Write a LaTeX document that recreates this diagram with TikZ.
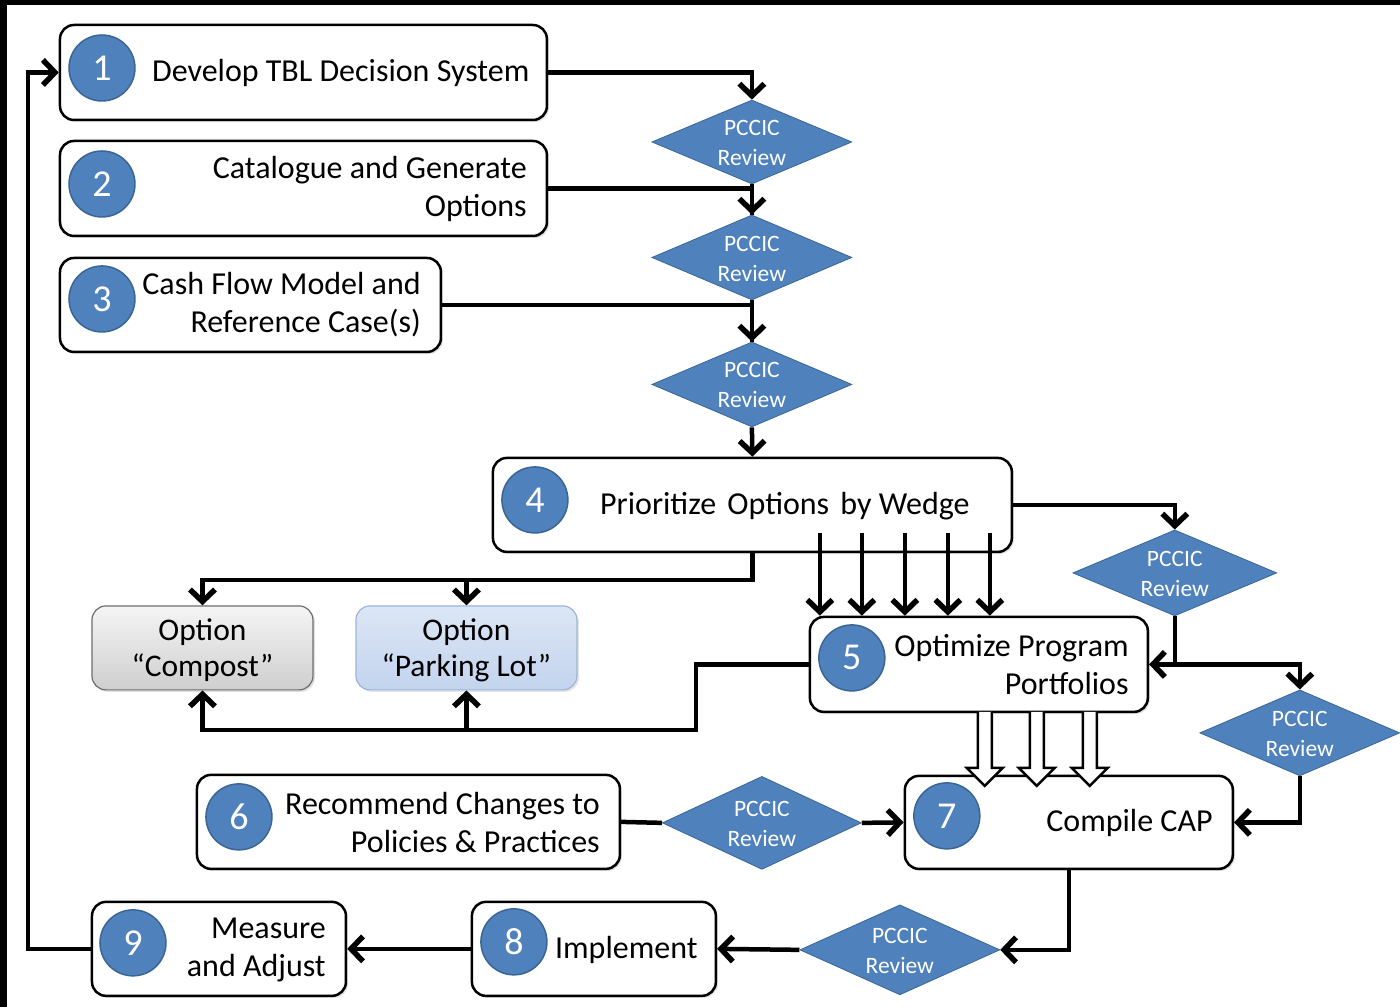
\documentclass[tikz,border=0pt]{standalone}
\usepackage{fontspec}
\setmainfont{Carlito}
\usetikzlibrary{arrows.meta,shapes.geometric,shadows,calc}
\definecolor{cblue}{HTML}{4F81BD}
\definecolor{cbluedark}{HTML}{3A6696}
\definecolor{pkfill}{HTML}{DCE6F5}
\definecolor{pkfill2}{HTML}{C3D4EE}
\definecolor{pkdraw}{HTML}{9DB5DB}
\definecolor{cpdraw}{HTML}{6E6E6E}
\begin{document}
\begin{tikzpicture}[x=1pt,y=-1pt,
  box/.style={draw=black, line width=2.5pt, fill=white, rounded corners=14pt, inner sep=0pt,
    drop shadow={shadow xshift=2pt, shadow yshift=-2pt, opacity=0.25}},
  num/.style={circle, fill=cblue, draw=cbluedark, line width=1.5pt, minimum size=66pt, inner sep=0pt,
    text=white, font=\fontsize{38}{40}\selectfont},
  txt/.style={inner sep=0pt, font=\fontsize{32}{38}\selectfont},
  rev/.style={diamond, fill=cblue, draw=cbluedark, line width=0.8pt, inner sep=0pt},
  revtxt/.style={inner sep=0pt, text=white, align=center, font=\fontsize{23.5}{30}\selectfont},
  line/.style={line width=4.5pt},
  conn/.style={line width=4.5pt, -{Straight Barb[length=12pt,width=25pt,line width=5.5pt]}},
  hollow/.style={line width=2.5pt, fill=white, line join=miter}
]
% frame
\fill[black] (0,0) rectangle (1400,1007);
\fill[white] (7,5) rectangle (1400,1007);

% boxes
\node[box, minimum width=487pt, minimum height=95pt] (b1) at (303.5,72.5) {};
\node[box, minimum width=487pt, minimum height=95pt] (b2) at (303.5,188.5) {};
\node[box, minimum width=381pt, minimum height=94pt] (b3) at (250.5,305) {};
\node[box, minimum width=519pt, minimum height=94pt] (b4) at (752.5,505) {};
\node[box, minimum width=338pt, minimum height=95pt] (b5) at (979,664.5) {};
\node[box, minimum width=423pt, minimum height=94pt] (b6) at (408.5,822) {};
\node[box, minimum width=328pt, minimum height=93pt] (b7) at (1069,822.5) {};
\node[box, minimum width=244pt, minimum height=94pt] (b8) at (594,949) {};
\node[box, minimum width=254pt, minimum height=94pt] (b9) at (219,949) {};

\node[draw=cpdraw, line width=1.2pt, rounded corners=14pt, top color=gray!8, bottom color=gray!38,
  minimum width=221pt, minimum height=84pt, inner sep=0pt,
  drop shadow={shadow xshift=2pt, shadow yshift=-2pt, opacity=0.25}] (comp) at (202.5,648) {};
\node[draw=pkdraw, line width=1.2pt, rounded corners=14pt, top color=pkfill, bottom color=pkfill2,
  minimum width=221pt, minimum height=84pt, inner sep=0pt,
  drop shadow={shadow xshift=2pt, shadow yshift=-2pt, opacity=0.2}] (park) at (466.5,648) {};

% number circles
\node[num] (n1) at (102,68) {1};
\node[num] (n2) at (102,184) {2};
\node[num] (n3) at (102,299) {3};
\node[num] (n4) at (535,500) {4};
\node[num] (n5) at (852,658) {5};
\node[num] (n6) at (239,817) {6};
\node[num] (n7) at (947,816) {7};
\node[num] (n8) at (514,942) {8};
\node[num] (n9) at (133,943) {9};

% texts
\node[txt, anchor=west] (t1) at (152,73) {Develop TBL Decision System};
\node[txt, anchor=east, align=right] (t2) at (527,189) {Catalogue and Generate\\Options};
\node[txt, anchor=east, align=right] (t3) at (421,305) {Cash Flow Model and\\Reference Case(s)};
\node[txt, anchor=west] (t4) at (600,506) {Prioritize\hspace{4pt} Options\hspace{4pt} by Wedge};
\node[txt, anchor=east, align=right] (t5) at (1129,665) {Optimize Program\\Portfolios};
\node[txt, anchor=east, align=right] (t6) at (600,823) {Recommend Changes to\\Policies \& Practices};
\node[txt, anchor=east] (t7) at (1213,823) {Compile CAP};
\node[txt, anchor=west] (t8) at (555,950) {Implement};
\node[txt, anchor=east, align=right] (t9) at (326,950) {Measure\\and Adjust};
\node[txt, align=center, font=\fontsize{31.5}{36}\selectfont] (tc) at (202.5,650) {Option\\“Compost”};
\node[txt, align=center, font=\fontsize{31.5}{36}\selectfont] (tp) at (466.5,650) {Option\\“Parking Lot”};

% review diamonds
\node[rev, minimum width=200pt, minimum height=84pt] (d1) at (752,142) {};
\node[rev, minimum width=200pt, minimum height=85pt] (d2) at (752,257.5) {};
\node[rev, minimum width=200pt, minimum height=85pt] (d3) at (752,384.5) {};
\node[rev, minimum width=204pt, minimum height=86pt] (d4) at (1175,573) {};
\node[rev, minimum width=200pt, minimum height=86pt] (d5) at (1300,733) {};
\node[rev, minimum width=200pt, minimum height=90pt] (d6) at (900,950) {};
\node[rev, minimum width=199pt, minimum height=93pt] (d7) at (762,823) {};
\foreach \d in {d1,d2,d3,d4,d5,d6,d7} {
  \node[revtxt] (\d txt) at ($(\d.center)+(0,1)$) {PCCIC\\Review};
}

% connectors top column
\draw[conn] (b1.east) -| (d1.north);
\draw[line] (d1.south) -- (d2.north);
\draw[conn] (b2.east) -| (d2.north);
\draw[line] (d2.south) -- (d3.north);
\draw[conn] (b3.east) -| (d3.north);
\draw[conn] (d3.south) -- (b4.north);

% right branch
\draw[conn] (b4.east) -| (d4.north);
\coordinate (j1) at (d4.south |- b5.east);
\draw[conn] (d4.south) |- (b5.east);
\draw[conn] (j1) -| (d5.north);
\draw[conn] (d5.south) |- (b7.east);

% options
\coordinate (top) at (0,580);
\draw[conn] (b4.south) -- (b4.south |- top) -| (comp.north);
\draw[conn] (park.north |- top) -- (park.north);
\coordinate (bot) at (696,730);
\draw[conn] (b5.west) -| (bot) -| (comp.south);
\draw[conn] (park.south |- bot) -- (park.south);

% wedge arrows
\foreach \xx in {820,862,905,948,990} {
  \draw[conn] (\xx,533) -- (b5.north -| \xx,0);
}

% row 6-7
\draw[line] (b6.east) -- (d7.west);
\draw[conn] (d7.east) -- (b7.west);

% hollow arrows 5 -> 7
\foreach \cx in {985,1037,1090} {
  \draw[hollow] (\cx-7,712) -- (\cx-7,768) -- (\cx-18,768) -- (\cx,786) -- (\cx+18,768) -- (\cx+7,768) -- (\cx+7,712);
}

% bottom row
\draw[conn] (b7.south) |- (d6.east);
\draw[conn] (d6.west) -- (b8.east);
\draw[conn] (b8.west) -- (b9.east);
\coordinate (loop) at (28,949);
\draw[conn] (b9.west) -- (loop) |- (b1.west);
\end{tikzpicture}
\end{document}
